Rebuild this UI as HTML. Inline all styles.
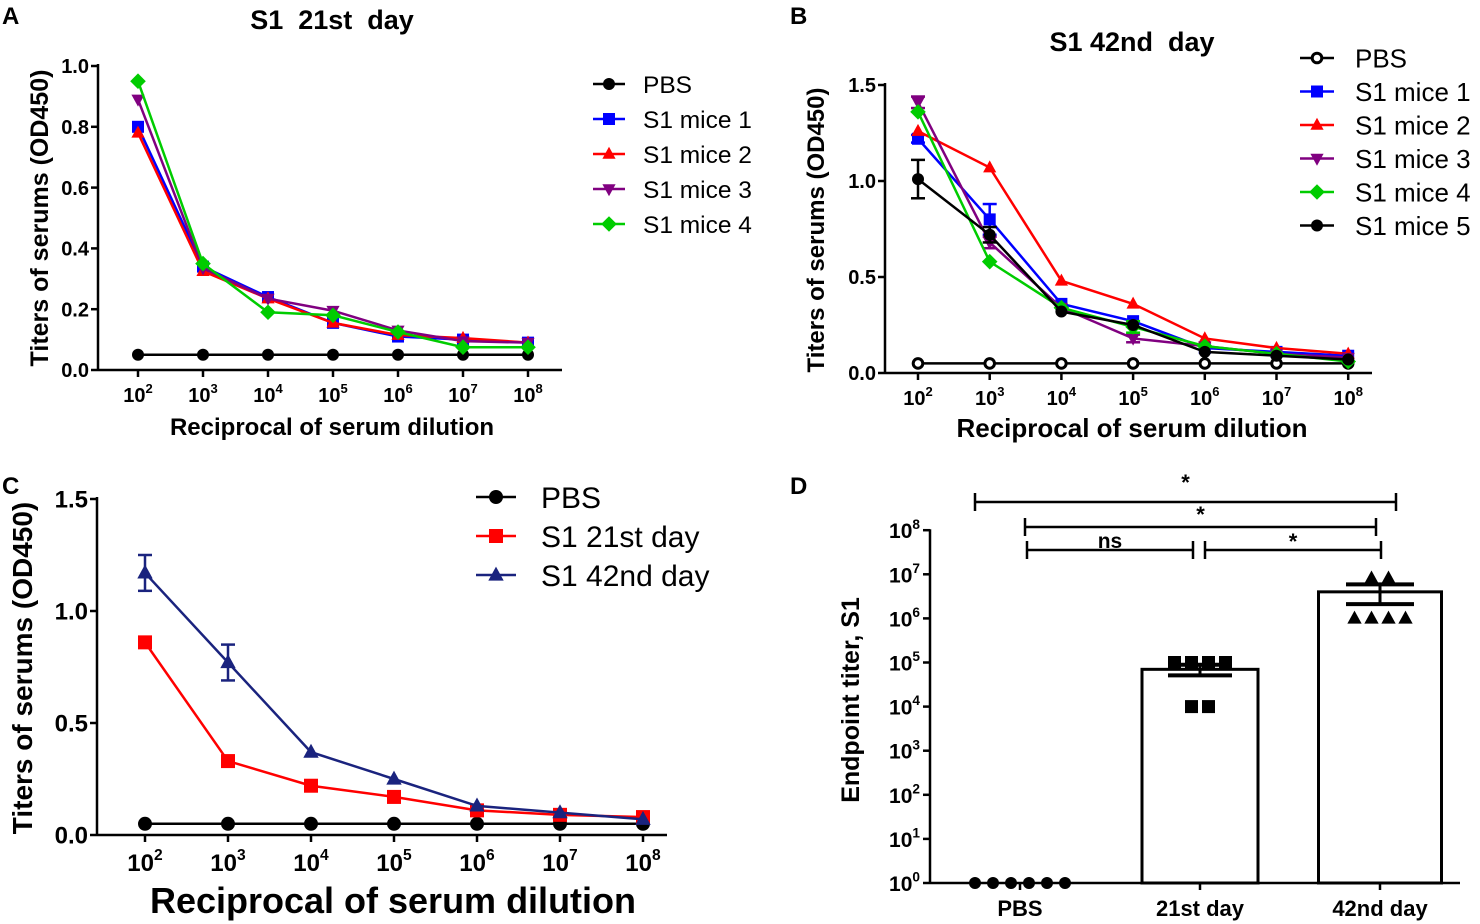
<!DOCTYPE html>
<html><head><meta charset="utf-8">
<style>
html,body{margin:0;padding:0;background:#fff;}
svg{display:block;font-family:"Liberation Sans",Arial,sans-serif;}
</style></head>
<body>
<svg id="fig" width="1480" height="924" viewBox="0 0 1480 924" xmlns="http://www.w3.org/2000/svg">
<g font-weight="bold" font-size="24">
<text x="2" y="24">A</text>
<text x="790" y="24">B</text>
<text x="2" y="494">C</text>
<text x="790" y="494">D</text>
<text x="332" y="29" font-size="27" text-anchor="middle" style="white-space:pre">S1  21st  day</text>
<text x="1132" y="51" font-size="27" text-anchor="middle" style="white-space:pre">S1 42nd  day</text>
</g>
</svg>
<script>
const NS='http://www.w3.org/2000/svg';
const svg=document.getElementById('fig');
function mk(tag,attrs,parent){const e=document.createElementNS(NS,tag);for(const k in attrs)e.setAttribute(k,attrs[k]);(parent||svg).appendChild(e);return e;}

// ---------- data ----------
const dilutionExps=[2,3,4,5,6,7,8];
const aSeriesNames=['PBS','S1 mice 1','S1 mice 2','S1 mice 3','S1 mice 4'];
const aPBS=[0.05,0.05,0.05,0.05,0.05,0.05,0.05];
const aMice1=[0.80,0.34,0.24,0.155,0.11,0.10,0.09];
const aMice2=[0.78,0.325,0.235,0.155,0.115,0.105,0.09];
const aMice3=[0.89,0.335,0.235,0.195,0.13,0.095,0.09];
const aMice4=[0.95,0.35,0.19,0.18,0.125,0.075,0.075];
const aTicks=[0,0.2,0.4,0.6,0.8,1.0];

const bSeriesNames=['PBS','S1 mice 1','S1 mice 2','S1 mice 3','S1 mice 4','S1 mice 5'];
const bPBS=[0.05,0.05,0.05,0.05,0.05,0.05,0.05];
const bMice1=[1.22,0.80,0.36,0.27,0.13,0.11,0.09];
const bMice1Err=[0.02,0.08,0,0,0,0,0];
const bMice2=[1.26,1.07,0.48,0.36,0.18,0.13,0.10];
const bMice3=[1.41,0.68,0.34,0.18,0.14,0.10,0.08];
const bMice3Err=[0.03,0.03,0,0.02,0,0,0];
const bMice4=[1.36,0.58,0.34,0.24,0.14,0.10,0.06];
const bMice4Err=[0,0,0,0.03,0,0,0];
const bMice5=[1.01,0.72,0.32,0.25,0.11,0.09,0.07];
const bMice5Err=[0.10,0.04,0,0,0,0,0];
const bTicks=[0,0.5,1.0,1.5];

const cSeriesNames=['PBS','S1 21st day','S1 42nd day'];
const cPBS=[0.05,0.05,0.05,0.05,0.05,0.05,0.05];
const c21=[0.86,0.33,0.22,0.17,0.11,0.09,0.08];
const c21Err=[0.02,0,0,0,0,0,0];
const c42=[1.17,0.77,0.37,0.25,0.13,0.10,0.07];
const c42Err=[0.08,0.08,0,0,0,0,0];
const cTicks=[0,0.5,1.0,1.5];

const dGroups=['PBS','21st day','42nd day'];
const dPBS=[1,1,1,1,1,1];
const d21=[100000,100000,100000,100000,10000,10000];
const d42=[10000000,10000000,1000000,1000000,1000000,1000000];
const dTickExps=[0,1,2,3,4,5,6,7,8];

// ---------- markers ----------
function marker(g,shape,x,y,s,color){
  let e;
  if(shape==='circle'){e=mk('circle',{cx:x,cy:y,r:s,fill:color},g);}
  else if(shape==='ocircle'){e=mk('circle',{cx:x,cy:y,r:s*0.8,fill:'#fff',stroke:color,'stroke-width':3},g);}
  else if(shape==='square'){e=mk('rect',{x:x-s,y:y-s,width:2*s,height:2*s,fill:color},g);}
  else if(shape==='tri'){e=mk('polygon',{points:`${x},${y-s*1.2} ${x-s*1.1},${y+s*0.8} ${x+s*1.1},${y+s*0.8}`,fill:color},g);}
  else if(shape==='itri'){e=mk('polygon',{points:`${x},${y+s*1.2} ${x-s*1.1},${y-s*0.8} ${x+s*1.1},${y-s*0.8}`,fill:color},g);}
  else if(shape==='diamond'){e=mk('polygon',{points:`${x},${y-s*1.3} ${x+s*1.3},${y} ${x},${y+s*1.3} ${x-s*1.3},${y}`,fill:color},g);}
  return e;
}
function expLabel(g,x,y,exp,fs,anchor){
  const t=mk('text',{x:x,y:y,'font-size':fs,'font-weight':'bold','text-anchor':anchor||'middle'},g);
  t.appendChild(document.createTextNode('10'));
  const ts=mk('tspan',{dy:-fs*0.45,'font-size':fs*0.65},t);
  ts.textContent=String(exp);
  return t;
}

// ---------- line panel ----------
function linePanel(p){
  const g=mk('g',{});
  
  
  const ys=v=>p.y0-(v/p.ymax)*(p.y0-p.yTop);
  const xs=i=>p.xFirst+i*p.dx;
  const ax=mk('line',{x1:p.axisX,y1:p.yTop-2,x2:p.axisX,y2:p.y0,stroke:'#000','stroke-width':2.5},g);
  
  const bx=mk('line',{x1:p.axisX,y1:p.y0,x2:p.xRight,y2:p.y0,stroke:'#000','stroke-width':2.5},g);
  
  p.ticks.forEach(v=>{
    mk('line',{x1:p.axisX-7,y1:ys(v),x2:p.axisX,y2:ys(v),stroke:'#000','stroke-width':2.5},g);
    const t=mk('text',{x:p.axisX-9,y:ys(v)+p.tfs*0.36,'font-size':p.tfs,'font-weight':'bold','text-anchor':'end'},g);
    t.textContent=v.toFixed(1);
    
  });
  dilutionExps.forEach((e,i)=>{
    mk('line',{x1:xs(i),y1:p.y0,x2:xs(i),y2:p.y0+7,stroke:'#000','stroke-width':2.5},g);
    const t=expLabel(g,xs(i),p.y0+p.tfs+12,e,p.tfs);
    
  });
  const xt=mk('text',{x:p.xTitleX,y:p.xTitleY,'font-size':p.xtfs,'font-weight':'bold','text-anchor':'middle'},g);
  xt.textContent='Reciprocal of serum dilution';
  
  const yt=mk('text',{x:0,y:0,'font-size':p.ytfs,'font-weight':'bold','text-anchor':'middle',transform:`translate(${p.yTitleX},${p.yTitleY}) rotate(-90)`},g);
  yt.textContent='Titers of serums (OD450)';
  
  p.series.forEach(s=>{
    const sg=mk('g',{},g);
    
    
    const pts=s.vals.map((v,i)=>xs(i)+','+ys(v)).join(' ');
    mk('polyline',{points:pts,fill:'none',stroke:s.color,'stroke-width':2.5},sg);
    s.vals.forEach((v,i)=>{
      const er=s.err?s.err[i]:0;
      if(er>0){
        mk('line',{x1:xs(i),y1:ys(v-er),x2:xs(i),y2:ys(v+er),stroke:s.color,'stroke-width':2.5},sg);
        [v-er,v+er].forEach(w=>mk('line',{x1:xs(i)-7,y1:ys(w),x2:xs(i)+7,y2:ys(w),stroke:s.color,'stroke-width':2.5},sg));
      }
      const m=marker(sg,s.shape,xs(i),ys(v),p.ms,s.color);
      
      
    });
  });
  const lg=mk('g',{},g);
  
  p.series.forEach((s,k)=>{
    const y=p.legY+k*p.legDy;
    const eg=mk('g',{},lg);
    
    mk('line',{x1:p.legX-p.legHalf,y1:y,x2:p.legX+p.legHalf,y2:y,stroke:s.color,'stroke-width':2.5},eg);
    marker(eg,s.shape,p.legX,y,p.ms,s.color);
    const t=mk('text',{x:p.legTextX,y:y+p.lfs*0.36,'font-size':p.lfs},eg);
    t.textContent=s.label;
  });
}

linePanel({name:'panel-a-chart',axisX:98,y0:370,yTop:66,ymax:1.0,xFirst:138,dx:65,xRight:562,ticks:aTicks,tfs:20,
  xTitleX:332,xTitleY:435,xtfs:24,yTitleX:48,yTitleY:218,ytfs:25,ms:6,
  legX:609,legHalf:16,legTextX:643,legY:84,legDy:35,lfs:24.5,
  series:[
    {key:'pbs',label:aSeriesNames[0],vals:aPBS,color:'#000',shape:'circle'},
    {key:'mice1',label:aSeriesNames[1],vals:aMice1,color:'#0000ff',shape:'square'},
    {key:'mice2',label:aSeriesNames[2],vals:aMice2,color:'#ff0000',shape:'tri'},
    {key:'mice3',label:aSeriesNames[3],vals:aMice3,color:'#800080',shape:'itri'},
    {key:'mice4',label:aSeriesNames[4],vals:aMice4,color:'#00cc00',shape:'diamond'}]});

linePanel({name:'panel-b-chart',axisX:885,y0:373,yTop:85,ymax:1.5,xFirst:918,dx:71.7,xRight:1372,ticks:bTicks,tfs:20,
  xTitleX:1132,xTitleY:437,xtfs:26,yTitleX:824,yTitleY:230,ytfs:24,ms:6,
  legX:1317,legHalf:17,legTextX:1355,legY:58,legDy:33.5,lfs:26,
  series:[
    {key:'pbs',label:bSeriesNames[0],vals:bPBS,color:'#000',shape:'ocircle'},
    {key:'mice1',label:bSeriesNames[1],vals:bMice1,err:bMice1Err,color:'#0000ff',shape:'square'},
    {key:'mice2',label:bSeriesNames[2],vals:bMice2,color:'#ff0000',shape:'tri'},
    {key:'mice3',label:bSeriesNames[3],vals:bMice3,err:bMice3Err,color:'#800080',shape:'itri'},
    {key:'mice4',label:bSeriesNames[4],vals:bMice4,err:bMice4Err,color:'#00cc00',shape:'diamond'},
    {key:'mice5',label:bSeriesNames[5],vals:bMice5,err:bMice5Err,color:'#000',shape:'circle'}]});

linePanel({name:'panel-c-chart',axisX:97,y0:835,yTop:499,ymax:1.5,xFirst:145,dx:83,xRight:667,ticks:cTicks,tfs:24,
  xTitleX:393,xTitleY:913,xtfs:36,yTitleX:32,yTitleY:668,ytfs:28,ms:7,
  legX:496,legHalf:20,legTextX:541,legY:497,legDy:39,lfs:30,
  series:[
    {key:'pbs',label:cSeriesNames[0],vals:cPBS,color:'#000',shape:'circle'},
    {key:'day21',label:cSeriesNames[1],vals:c21,err:c21Err,color:'#ff0000',shape:'square'},
    {key:'day42',label:cSeriesNames[2],vals:c42,err:c42Err,color:'#1a237e',shape:'tri'}]});

// ---------- panel D ----------
(function(){
  const g=mk('g',{});
  
  
  const axisX=930,y0=883,dec=44.1;
  const ys=v=>y0-Math.log10(v)*dec;
  const ax=mk('line',{x1:axisX,y1:ys(1e8)-1,x2:axisX,y2:y0,stroke:'#000','stroke-width':2.5},g);
  
  const bx=mk('line',{x1:axisX,y1:y0,x2:1460,y2:y0,stroke:'#000','stroke-width':2.5},g);
  
  dTickExps.forEach(e=>{
    const y=y0-e*dec;
    mk('line',{x1:axisX-7,y1:y,x2:axisX,y2:y,stroke:'#000','stroke-width':2.5},g);
    const t=expLabel(g,axisX-10,y+8,e,21,'end');
    
  });
  const yt=mk('text',{x:0,y:0,'font-size':25,'font-weight':'bold','text-anchor':'middle',transform:'translate(859,700) rotate(-90)'},g);
  yt.textContent='Endpoint titer, S1';
  
  const groupX=[1020,1200,1380];
  const bw=[0,116,123];
  const sets=[dPBS,d21,d42];
  dGroups.forEach((name,i)=>{
    const x=groupX[i];
    mk('line',{x1:x,y1:y0,x2:x,y2:y0+7,stroke:'#000','stroke-width':2.5},g);
    const t=mk('text',{x:x,y:y0+33,'font-size':22,'font-weight':'bold','text-anchor':'middle'},g);
    t.textContent=name;
    
    const vals=sets[i];
    const n=vals.length;
    const mean=vals.reduce((a,b)=>a+b,0)/n;
    const sd=Math.sqrt(vals.reduce((a,b)=>a+(b-mean)**2,0)/(n-1));
    const sem=sd/Math.sqrt(n);
    if(bw[i]>0){
      const r=mk('rect',{x:x-bw[i]/2,y:ys(mean),width:bw[i],height:y0-ys(mean),fill:'#fff',stroke:'#000','stroke-width':3},g);
      
      
    }
    const shape=i===0?'circle':(i===1?'square':'tri');
    const levels={};
    vals.forEach(v=>{levels[v]=(levels[v]||0)+1;});
    const idx={};
    vals.forEach(v=>{
      const c=levels[v];idx[v]=(idx[v]||0);
      const step=i===0?18:17;
      const px=x+(idx[v]-(c-1)/2)*step;
      idx[v]++;
      const m=marker(g,shape,px,ys(v)-(i===2&&v>=1e7?-4:0),i===0?6:6.5,'#000');
      
      
    });
    if(bw[i]>0&&sem>0){
      const hw=i===1?32:34;
      mk('line',{x1:x,y1:ys(mean+sem),x2:x,y2:ys(Math.max(mean-sem,1)),stroke:'#000','stroke-width':3},g);
      [mean+sem,mean-sem].forEach(w=>mk('line',{x1:x-hw,y1:ys(w),x2:x+hw,y2:ys(w),stroke:'#000','stroke-width':4},g));
    }
  });
  const br=[[975,1396,502,'*',490],[1025,1376,527,'*',522],[1027,1193,550,'ns',548],[1205,1381,550,'*',549]];
  br.forEach(b=>{
    const bg=mk('g',{},g);
    
    
    mk('line',{x1:b[0],y1:b[2],x2:b[1],y2:b[2],stroke:'#000','stroke-width':2.5},bg);
    mk('line',{x1:b[0],y1:b[2]-9,x2:b[0],y2:b[2]+9,stroke:'#000','stroke-width':2.5},bg);
    mk('line',{x1:b[1],y1:b[2]-9,x2:b[1],y2:b[2]+9,stroke:'#000','stroke-width':2.5},bg);
    const t=mk('text',{x:(b[0]+b[1])/2,y:b[4],'font-size':b[3]==='ns'?21:22,'font-weight':'bold','text-anchor':'middle'},bg);
    t.textContent=b[3];
  });
})();
</script>
</body></html>
